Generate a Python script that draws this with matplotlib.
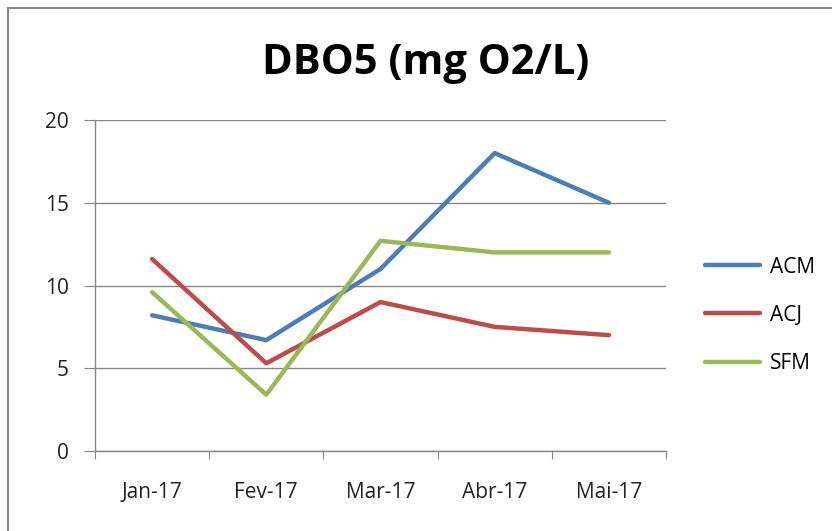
import matplotlib.pyplot as plt
from matplotlib.patches import Rectangle

# Data
months = ['Jan-17', 'Fev-17', 'Mar-17', 'Abr-17', 'Mai-17']
acm = [8.2, 6.7, 11.0, 18.0, 15.0]
acj = [11.6, 5.3, 9.0, 7.5, 7.0]
sfm = [9.6, 3.4, 12.7, 12.0, 12.0]

series = [('ACM', acm, '#4A7EBB'), ('ACJ', acj, '#BE4B48'), ('SFM', sfm, '#98B954')]

plt.rcParams['font.family'] = ['Open Sans', 'DejaVu Sans']

fig = plt.figure(figsize=(8.32, 5.31), dpi=100)
fig.patch.set_facecolor('white')
# chart area border
fig.patches.append(Rectangle((8 / 832, -0.1), 1.2, 1 - 8 / 531 + 0.1, transform=fig.transFigure,
                             fill=False, edgecolor='#888888', linewidth=1.5))

ax = fig.add_axes([95 / 832, 1 - 451 / 531, (666 - 95) / 832, (451 - 120) / 531])
x = list(range(len(months)))
for name, vals, col in series:
    ax.plot(x, vals, color=col, linewidth=3.2, label=name, solid_capstyle='round')

ax.set_xlim(-0.5, len(months) - 0.5)
ax.set_ylim(0, 20)
ax.set_yticks([0, 5, 10, 15, 20])
ax.yaxis.grid(True, color='#868686', linewidth=1)
ax.set_axisbelow(True)

# category axis: ticks on boundaries, labels centred
ax.set_xticks([i - 0.5 for i in range(len(months) + 1)])
ax.set_xticklabels([])
ax.set_xticks(x, minor=True)
ax.set_xticklabels(months, minor=True)
ax.tick_params(axis='x', which='major', direction='out', length=6, color='#868686')
ax.tick_params(axis='x', which='minor', length=0, pad=22, labelsize=15, labelcolor='#222222')
ax.tick_params(axis='y', direction='out', length=8, color='#868686', pad=11,
               labelsize=15, labelcolor='#222222')

for s in ['top', 'right']:
    ax.spines[s].set_visible(False)
for s in ['left', 'bottom']:
    ax.spines[s].set_color('#868686')
    ax.spines[s].set_linewidth(1)

fig.text(426 / 832, 1 - 63 / 531, 'DBO5 (mg O2/L)', ha='center', va='center',
         fontsize=30, fontweight='bold')

ax.legend(loc='center left', bbox_to_anchor=(1.068, 0.41), frameon=False,
          borderpad=0, borderaxespad=0,
          fontsize=15, handlelength=2.64, handletextpad=0.5, labelspacing=1.3)

fig.savefig('out.png', dpi=100)
